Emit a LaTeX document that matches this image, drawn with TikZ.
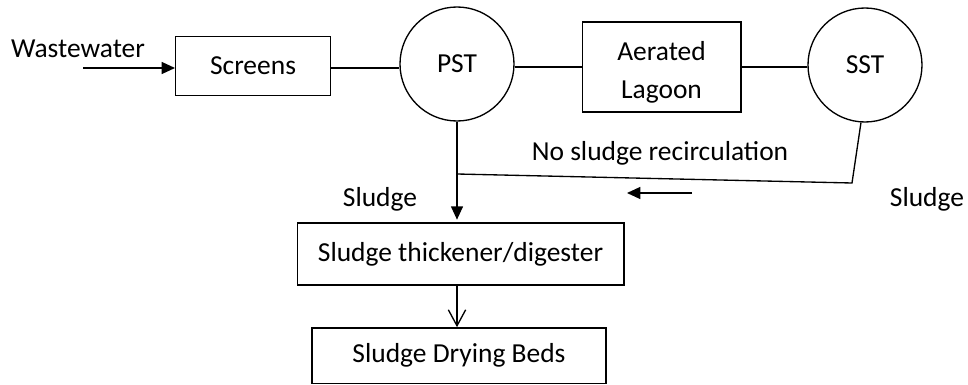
\documentclass[tikz,border=0pt]{standalone}
\usepackage{fontspec}
\setmainfont{Carlito}
\usetikzlibrary{arrows.meta}

\begin{document}
\begin{tikzpicture}[x=0.75pt, y=-0.75pt, line width=1pt, >={Triangle[length=10pt,width=9pt]},
    font=\fontsize{20.6}{25}\selectfont,
    unit/.style={draw, rectangle, inner sep=2pt},
    tank/.style={draw, circle, inner sep=0pt, minimum size=#1}]
\useasboundingbox (0,0) rectangle (968,385);

% Línea de agua: rejas, sedimentador primario, laguna y sedimentador secundario
\node (WW) at (78,49) {Wastewater};
\node[unit, minimum width=116pt, minimum height=44pt] (SCR) at (253,66) {Screens};
\node[tank=85.5pt] (PST) at (457,64) {PST};
\node[unit, align=center, minimum width=119pt, minimum height=67.5pt] (LAG) at (661.5,67) {\rule{0pt}{22.5pt}Aerated\\[4pt]Lagoon};
\node[tank=85.5pt] (SST) at (865,65) {SST};

% Línea de fangos
\node[unit, minimum width=245pt, minimum height=46.5pt] (THK) at (460.5,254) {Sludge thickener/digester\hspace{12pt}};
\node[unit, minimum width=220.5pt, minimum height=41.5pt] (BED) at (459,355.5) {Sludge Drying Beds};

% Rótulos sueltos
\node (REC) at (660,153) {No sludge recirculation};
\node (SL1) at (380,199) {Sludge};
\node (SL2) at (927,199) {Sludge};

% Puntos auxiliares de las tuberías
\coordinate (IN) at (83,68);
\coordinate (BND) at (852,183);
\coordinate (JN) at (457,174);
\coordinate (RA) at (692,193);
\coordinate (RB) at (627,193);

\draw[->] (IN) -- (SCR.west |- IN);
\draw (SCR.east |- IN) -- (PST.west |- IN);
\draw (PST.east |- LAG.west) -- (LAG.west);
\draw (LAG.east) -- (SST.west |- LAG.east);

% Retorno de fango del SST hasta la bajada del PST
\draw (SST.-94) -- (BND) -- (JN);
\draw[->] (RA) -- (RB);

% Fango hacia espesador y eras de secado
\draw[->] (PST.south) -- ([yshift=2pt]THK.north -| PST.south);
\draw[-{Straight Barb[length=12pt,width=13pt]}] (THK.south -| PST.south) -- (BED.north -| PST.south);
\end{tikzpicture}
\end{document}
